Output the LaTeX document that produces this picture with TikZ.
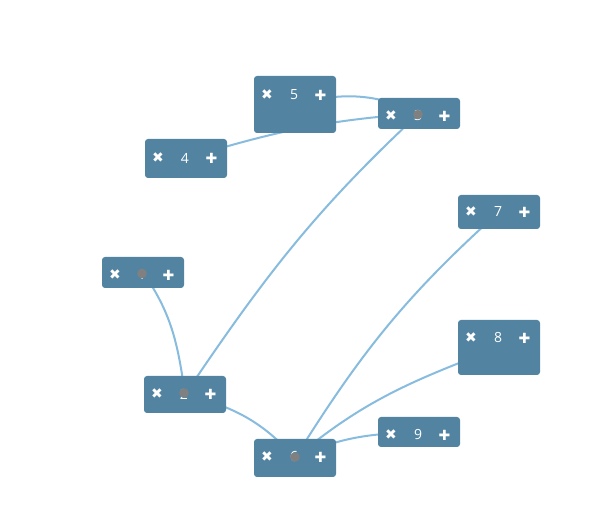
\documentclass[tikz,border=0pt]{standalone}
\usepackage{fontspec}
\setmainfont{Open Sans}
\newfontfamily\iconfont{DejaVu Sans}
\usetikzlibrary{backgrounds}
\definecolor{boxblue}{RGB}{82,132,162}
\definecolor{linkblue}{RGB}{136,188,222}
\definecolor{dotgray}{RGB}{128,128,128}

\tikzset{
  mapbox/.style={fill=boxblue, rounded corners=3pt, minimum width=82pt, inner sep=0pt, outer sep=0pt},
  maptext/.style={text=white, inner sep=0pt, font=\fontsize{14}{14}\selectfont},
  mapicon/.style={text=white, inner sep=0pt, font=\iconfont\fontsize{14}{14}\selectfont},
  maplink/.style={draw=linkblue, line width=2pt},
}

% name, left, top, height, row, label
\newcommand\mapnode[6]{%
  \node[mapbox, minimum height=#4pt, anchor=north west] (#1) at (#2,#3) {};
  \node[mapicon] (#1x) at (#2+13,#5) {✖};
  \node[maptext] (#1t) at (#2+40,#5) {#6};
  \node[mapicon] (#1p) at (#2+66.5,#5) {✚};
}

\begin{document}
\begin{tikzpicture}[x=1pt,y=1pt]

\useasboundingbox (0,0) rectangle (611,514);

\mapnode{n5}{254}{438}{57}{419}{5}
\mapnode{n3}{378}{416}{31}{398}{3}
\mapnode{n4}{145}{375}{39}{356}{4}
\mapnode{n7}{458}{319}{34}{302}{7}
\mapnode{n1}{102}{257}{31}{239}{1}
\mapnode{n8}{458}{194}{55}{176}{8}
\mapnode{n2}{144}{138}{37}{120}{2}
\mapnode{n9}{378}{97}{30}{79}{9}
\mapnode{n6}{254}{75}{38}{57}{6}

% collapsed markers
\fill[dotgray] ([yshift=1.5pt]n1t.center) circle (4.8);
\fill[dotgray] ([yshift=1pt]n2t.center) circle (4.8);
\fill[dotgray] ([yshift=1.5pt]n3t.center) circle (4.8);
\fill[dotgray] ([xshift=1pt]n6t.center) circle (4.8);

\begin{scope}[on background layer]
\draw[maplink] (n4.center) to[out=17,in=184] (n3.center);
\draw[maplink] (n5.center) to[out=15,in=155] (n3.center);
\draw[maplink] (n3.center) to[out=223,in=56] (n2.center);
\draw[maplink] (n1.center) to[out=-55,in=98] (n2.center);
\draw[maplink] (n2.center) to[out=-14,in=132] (n6.center);
\draw[maplink] (n6.center) to[out=58,in=222] (n7.center);
\draw[maplink] (n6.center) to[out=40,in=201] (n8.center);
\draw[maplink] (n6.center) to[out=25,in=182] (n9.center);
\end{scope}

\end{tikzpicture}
\end{document}
